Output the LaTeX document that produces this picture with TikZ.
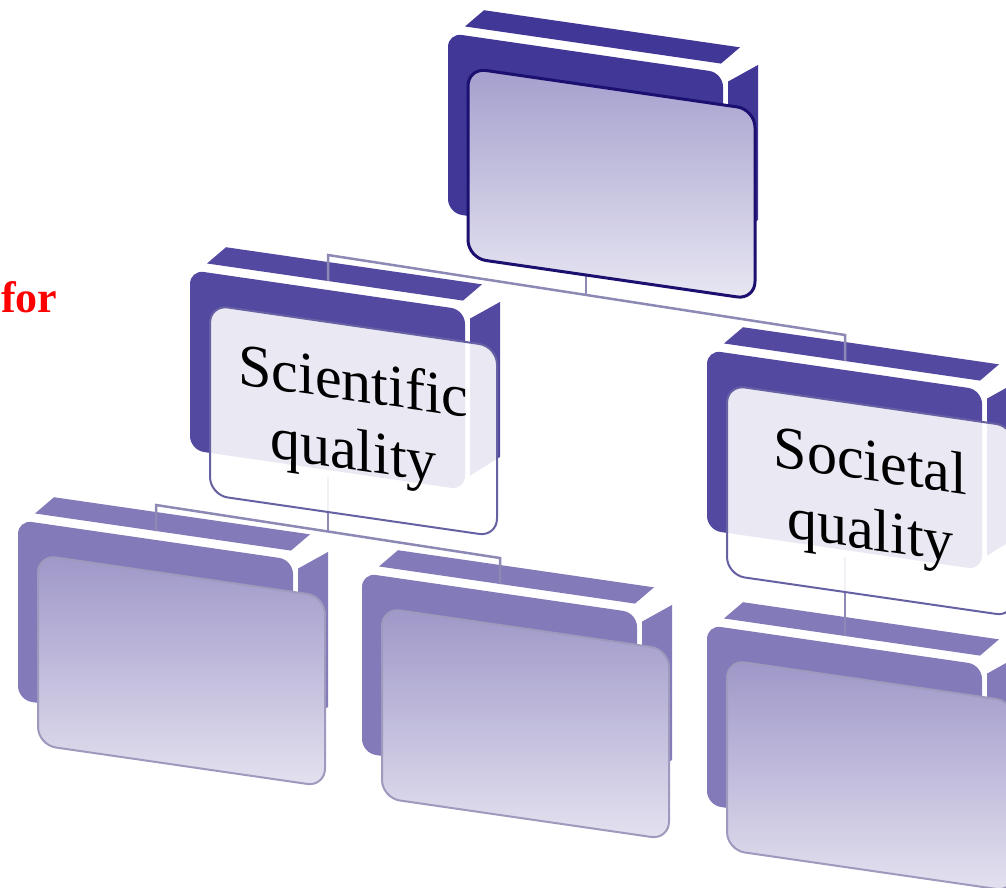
\documentclass[tikz,border=0pt]{standalone}
\usepackage{fontspec}
\setmainfont{Liberation Serif}
\usetikzlibrary{calc}
\pgfdeclarelayer{slabs}
\pgfdeclarelayer{links}
\pgfsetlayers{slabs,links,main}
\definecolor{slabA}{HTML}{413797}
\definecolor{slabB}{HTML}{5349A0}
\definecolor{slabC}{HTML}{837AB9}
\definecolor{rimA}{HTML}{1B1070}
\definecolor{rimB}{HTML}{6661A3}
\definecolor{rimC}{HTML}{9D9ABD}
\definecolor{linkgrey}{HTML}{8D89B5}

\begin{document}
\begin{tikzpicture}[x=1pt, y=-1pt,
    faceA/.style={fill=slabA}, faceB/.style={fill=slabB}, faceC/.style={fill=slabC},
    panel/.style={transform shape, rectangle, rounded corners=18pt, minimum width=287pt,
      minimum height=190pt, inner sep=0pt, align=center, font=\fontsize{60}{69}\selectfont},
    panelA/.style={panel, draw=rimA, line width=3pt, top color=slabA!48!white, bottom color=slabA!12!white},
    panelB/.style={panel, draw=rimB, line width=2pt, fill=white, fill opacity=0.88, text opacity=1},
    panelC/.style={panel, draw=rimC, line width=2pt, top color=slabC!78!white, bottom color=slabC!22!white},
    link/.style={draw=linkgrey, line width=2.5pt}]
  \useasboundingbox (0,0) rectangle (1006,888);

  \node[text=red, font=\fontsize{44}{52}\selectfont\bfseries, anchor=base west, inner sep=0pt] (word) at (1,312) {for};

  \foreach \name/\ox/\oy/\lv/\txt in {boss/448/33/A/{}, sci/190/270/B/{Scientific\\quality},
      soc/707/350/B/{Societal\\quality}, sciL/18/520/C/{}, sciR/362/573/C/{}, socL/707/625/C/{}}{
    \begin{scope}[shift={(\ox,\oy)}, yslant=-0.145]
      \begin{pgfonlayer}{slabs}
        \fill[face\lv] (17,-9) -- (36,-28) -- (292,-28) -- (273,-9) -- cycle;
        \fill[face\lv] (280,8) -- (310,-13) -- (310,142) -- (280,165) -- cycle;
        \fill[face\lv, rounded corners=14pt] (0,0) rectangle (275,180);
      \end{pgfonlayer}
      \coordinate (\name-in) at (138,-9);
      \coordinate (\name-out) at (138,222);
      \node[panel\lv] (\name) at (163.5,127) {\txt};
    \end{scope}
  }

  \begin{pgfonlayer}{links}
    \draw[link] (boss-out) -- ++(0,19);
    \draw[link] (sci-in) -- ++(0,-26) -- ($(soc-in)+(0,-26)$) -- (soc-in);
    \draw[link] ($(sci-out)+(0,-35)$) -- ++(0,54);
    \draw[link] (sciL-in) -- ++(0,-26) -- ($(sciR-in)+(0,-26)$) -- (sciR-in);
    \draw[link] ($(soc-out)+(0,-35)$) -- (socL-in);
  \end{pgfonlayer}
\end{tikzpicture}
\end{document}
